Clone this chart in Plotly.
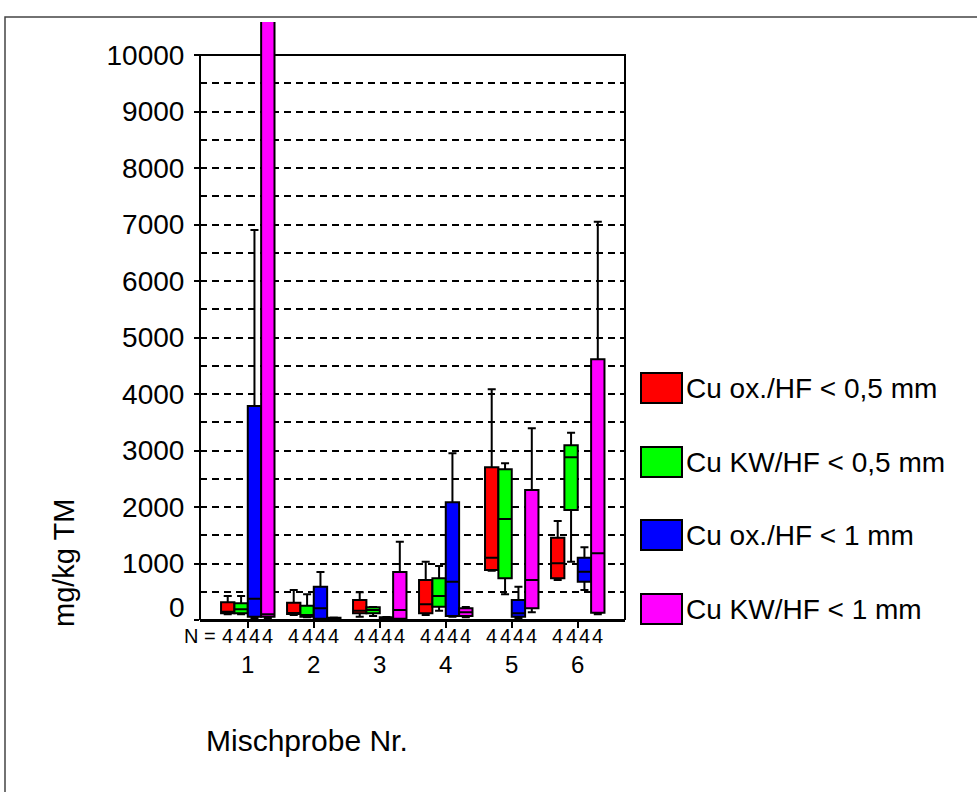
import plotly.graph_objects as go

# Mischprobe groups on the x axis
groups = [1, 2, 3, 4, 5, 6]

series_names = [
    "Cu ox./HF < 0,5 mm",
    "Cu KW/HF < 0,5 mm",
    "Cu ox./HF < 1 mm",
    "Cu KW/HF < 1 mm",
]
series_colors = ["#FF0000", "#00FF00", "#0000FF", "#FF00FF"]

# Box statistics (mg/kg TM) for each series, one value per Mischprobe
ox05_min = [100, 90, 58, 88, 870, 708]
ox05_q1 = [119, 106, 119, 119, 885, 738]
ox05_med = [147, 118, 165, 278, 1103, 1003]
ox05_q3 = [313, 306, 354, 708, 2703, 1457]
ox05_max = [425, 531, 490, 1032, 4083, 1752]

kw05_min = [100, 50, 71, 165, 455, 1032]
kw05_q1 = [119, 58, 119, 236, 738, 1947]
kw05_med = [189, 88, 177, 425, 1788, 2879]
kw05_q3 = [296, 253, 224, 738, 2667, 3092]
kw05_max = [425, 455, 230, 956, 2773, 3315]

ox1_min = [30, 15, 5, 58, 20, 531]
ox1_q1 = [58, 23, 10, 71, 58, 678]
ox1_med = [377, 207, 25, 678, 118, 855]
ox1_q3 = [3788, 589, 50, 2083, 354, 1103]
ox1_max = [6903, 850, 55, 2950, 589, 1287]

kw1_min = [30, 5, 15, 50, 136, 100]
kw1_q1 = [58, 10, 23, 71, 207, 129]
kw1_med = [100, 20, 177, 136, 708, 1180]
kw1_q3 = [10800, 40, 850, 207, 2301, 4614]
kw1_max = [10800, 45, 1386, 230, 3393, 7050]

# Number of samples per box
n_counts = [
    [4, 4, 4, 4, 4, 4],
    [4, 4, 4, 4, 4, 4],
    [4, 4, 4, 4, 4, 4],
    [4, 4, 4, 4, 4, 4],
]

y_ticks = [0, 1000, 2000, 3000, 4000, 5000, 6000, 7000, 8000, 9000, 10000]
y_ticktext = ["", "1000", "2000", "3000", "4000", "5000", "6000", "7000", "8000", "9000", "10000"]
y_minor = [500, 1500, 2500, 3500, 4500, 5500, 6500, 7500, 8500, 9500]

stats = [
    (ox05_min, ox05_q1, ox05_med, ox05_q3, ox05_max),
    (kw05_min, kw05_q1, kw05_med, kw05_q3, kw05_max),
    (ox1_min, ox1_q1, ox1_med, ox1_q3, ox1_max),
    (kw1_min, kw1_q1, kw1_med, kw1_q3, kw1_max),
]

FONT = "Liberation Sans, Arial, sans-serif"
W, H = 977, 792
ML, MR, MT, MB = 200, 352, 22, 172
PW, PH = W - ML - MR, H - MT - MB
BOXGAP = 0.19


def px_x(px):
    return (px - ML) / PW


def px_y(py):
    return (H - MB - py) / PH


fig = go.Figure()
for name, color, (mn, q1, med, q3, mx) in zip(series_names, series_colors, stats):
    fig.add_trace(go.Box(
        x=groups, q1=q1, median=med, q3=q3, lowerfence=mn, upperfence=mx,
        name=name, fillcolor=color, line=dict(color="black", width=2),
        whiskerwidth=0.6, boxpoints=False, showlegend=False, hoverinfo="skip",
    ))

annotations = []
shapes = []

# plot frame from 0 to 10000
shapes.append(dict(type="rect", xref="paper", yref="y", x0=0, x1=1, y0=0, y1=10000,
                   line=dict(color="black", width=2), layer="below"))
# outer chart border
shapes.append(dict(type="rect", xref="paper", yref="paper",
                   x0=px_x(5), x1=px_x(1000), y0=px_y(17), y1=px_y(820),
                   line=dict(color="#444444", width=1.5), layer="above"))

# N row below the axis
N_ROW = 636
slot = (1 - BOXGAP) / len(series_names)
annotations.append(dict(text="N =", xref="paper", yref="paper", x=px_x(218), y=px_y(N_ROW),
                        xanchor="right", yanchor="middle", showarrow=False,
                        font=dict(family=FONT, size=20, color="black")))
for k, counts in enumerate(n_counts):
    off = (k - (len(series_names) - 1) / 2) * slot
    for g, n in zip(groups, counts):
        annotations.append(dict(text=str(n), xref="x", yref="paper", x=g + off, y=px_y(N_ROW),
                                xanchor="center", yanchor="middle", showarrow=False,
                                font=dict(family=FONT, size=20, color="black")))

# "0" label sits slightly above the axis corner
annotations.append(dict(text="0", xref="paper", yref="y", x=px_x(187), y=0, yshift=13,
                        xanchor="right", yanchor="middle", showarrow=False,
                        font=dict(family=FONT, size=28, color="black")))

# axis titles
annotations.append(dict(text="mg/kg TM", xref="paper", yref="paper", x=px_x(64), y=px_y(563),
                        textangle=-90, xanchor="center", yanchor="middle", showarrow=False,
                        font=dict(family=FONT, size=29, color="black")))
annotations.append(dict(text="Mischprobe Nr.", xref="paper", yref="paper", x=px_x(204), y=px_y(740),
                        xanchor="left", yanchor="middle", showarrow=False,
                        font=dict(family=FONT, size=30, color="black")))

# legend: swatches and labels
leg_y = [388, 462, 535, 609]
for name, color, ly in zip(series_names, series_colors, leg_y):
    shapes.append(dict(type="rect", xref="paper", yref="paper",
                       x0=px_x(641), x1=px_x(682), y0=px_y(ly - 15), y1=px_y(ly + 15),
                       fillcolor=color, line=dict(color="black", width=2), layer="above"))
    annotations.append(dict(text=name, xref="paper", yref="paper", x=px_x(684), y=px_y(ly),
                            xanchor="left", yanchor="middle", showarrow=False,
                            font=dict(family=FONT, size=28, color="black")))

fig.update_layout(
    width=W, height=H,
    margin=dict(l=ML, r=MR, t=MT, b=MB, pad=0),
    paper_bgcolor="white", plot_bgcolor="white",
    boxmode="group", boxgap=BOXGAP, boxgroupgap=0,
    font=dict(family=FONT, color="black"),
    xaxis=dict(
        range=[0.276, 6.716], tickvals=groups, ticktext=[str(g) for g in groups],
        ticks="outside", ticklen=6, tickwidth=1.5, tickcolor="black",
        showline=True, linecolor="black", linewidth=2, showgrid=False, zeroline=False,
        tickfont=dict(family=FONT, size=24, color="black"), ticklabelstandoff=16,
    ),
    yaxis=dict(
        range=[0, 10584], tickvals=y_ticks, ticktext=y_ticktext,
        ticks="outside", ticklen=5, tickwidth=1.5, tickcolor="black",
        showline=False, zeroline=False,
        showgrid=True, gridcolor="black", gridwidth=1.8, griddash="7px,5px",
        minor=dict(tickmode="array", tickvals=y_minor, showgrid=True, gridcolor="black",
                   gridwidth=1.8, griddash="7px,5px", ticks=""),
        tickfont=dict(family=FONT, size=28, color="black"), ticklabelstandoff=4,
    ),
    shapes=shapes,
    annotations=annotations,
)

fig.write_html("out.html")
